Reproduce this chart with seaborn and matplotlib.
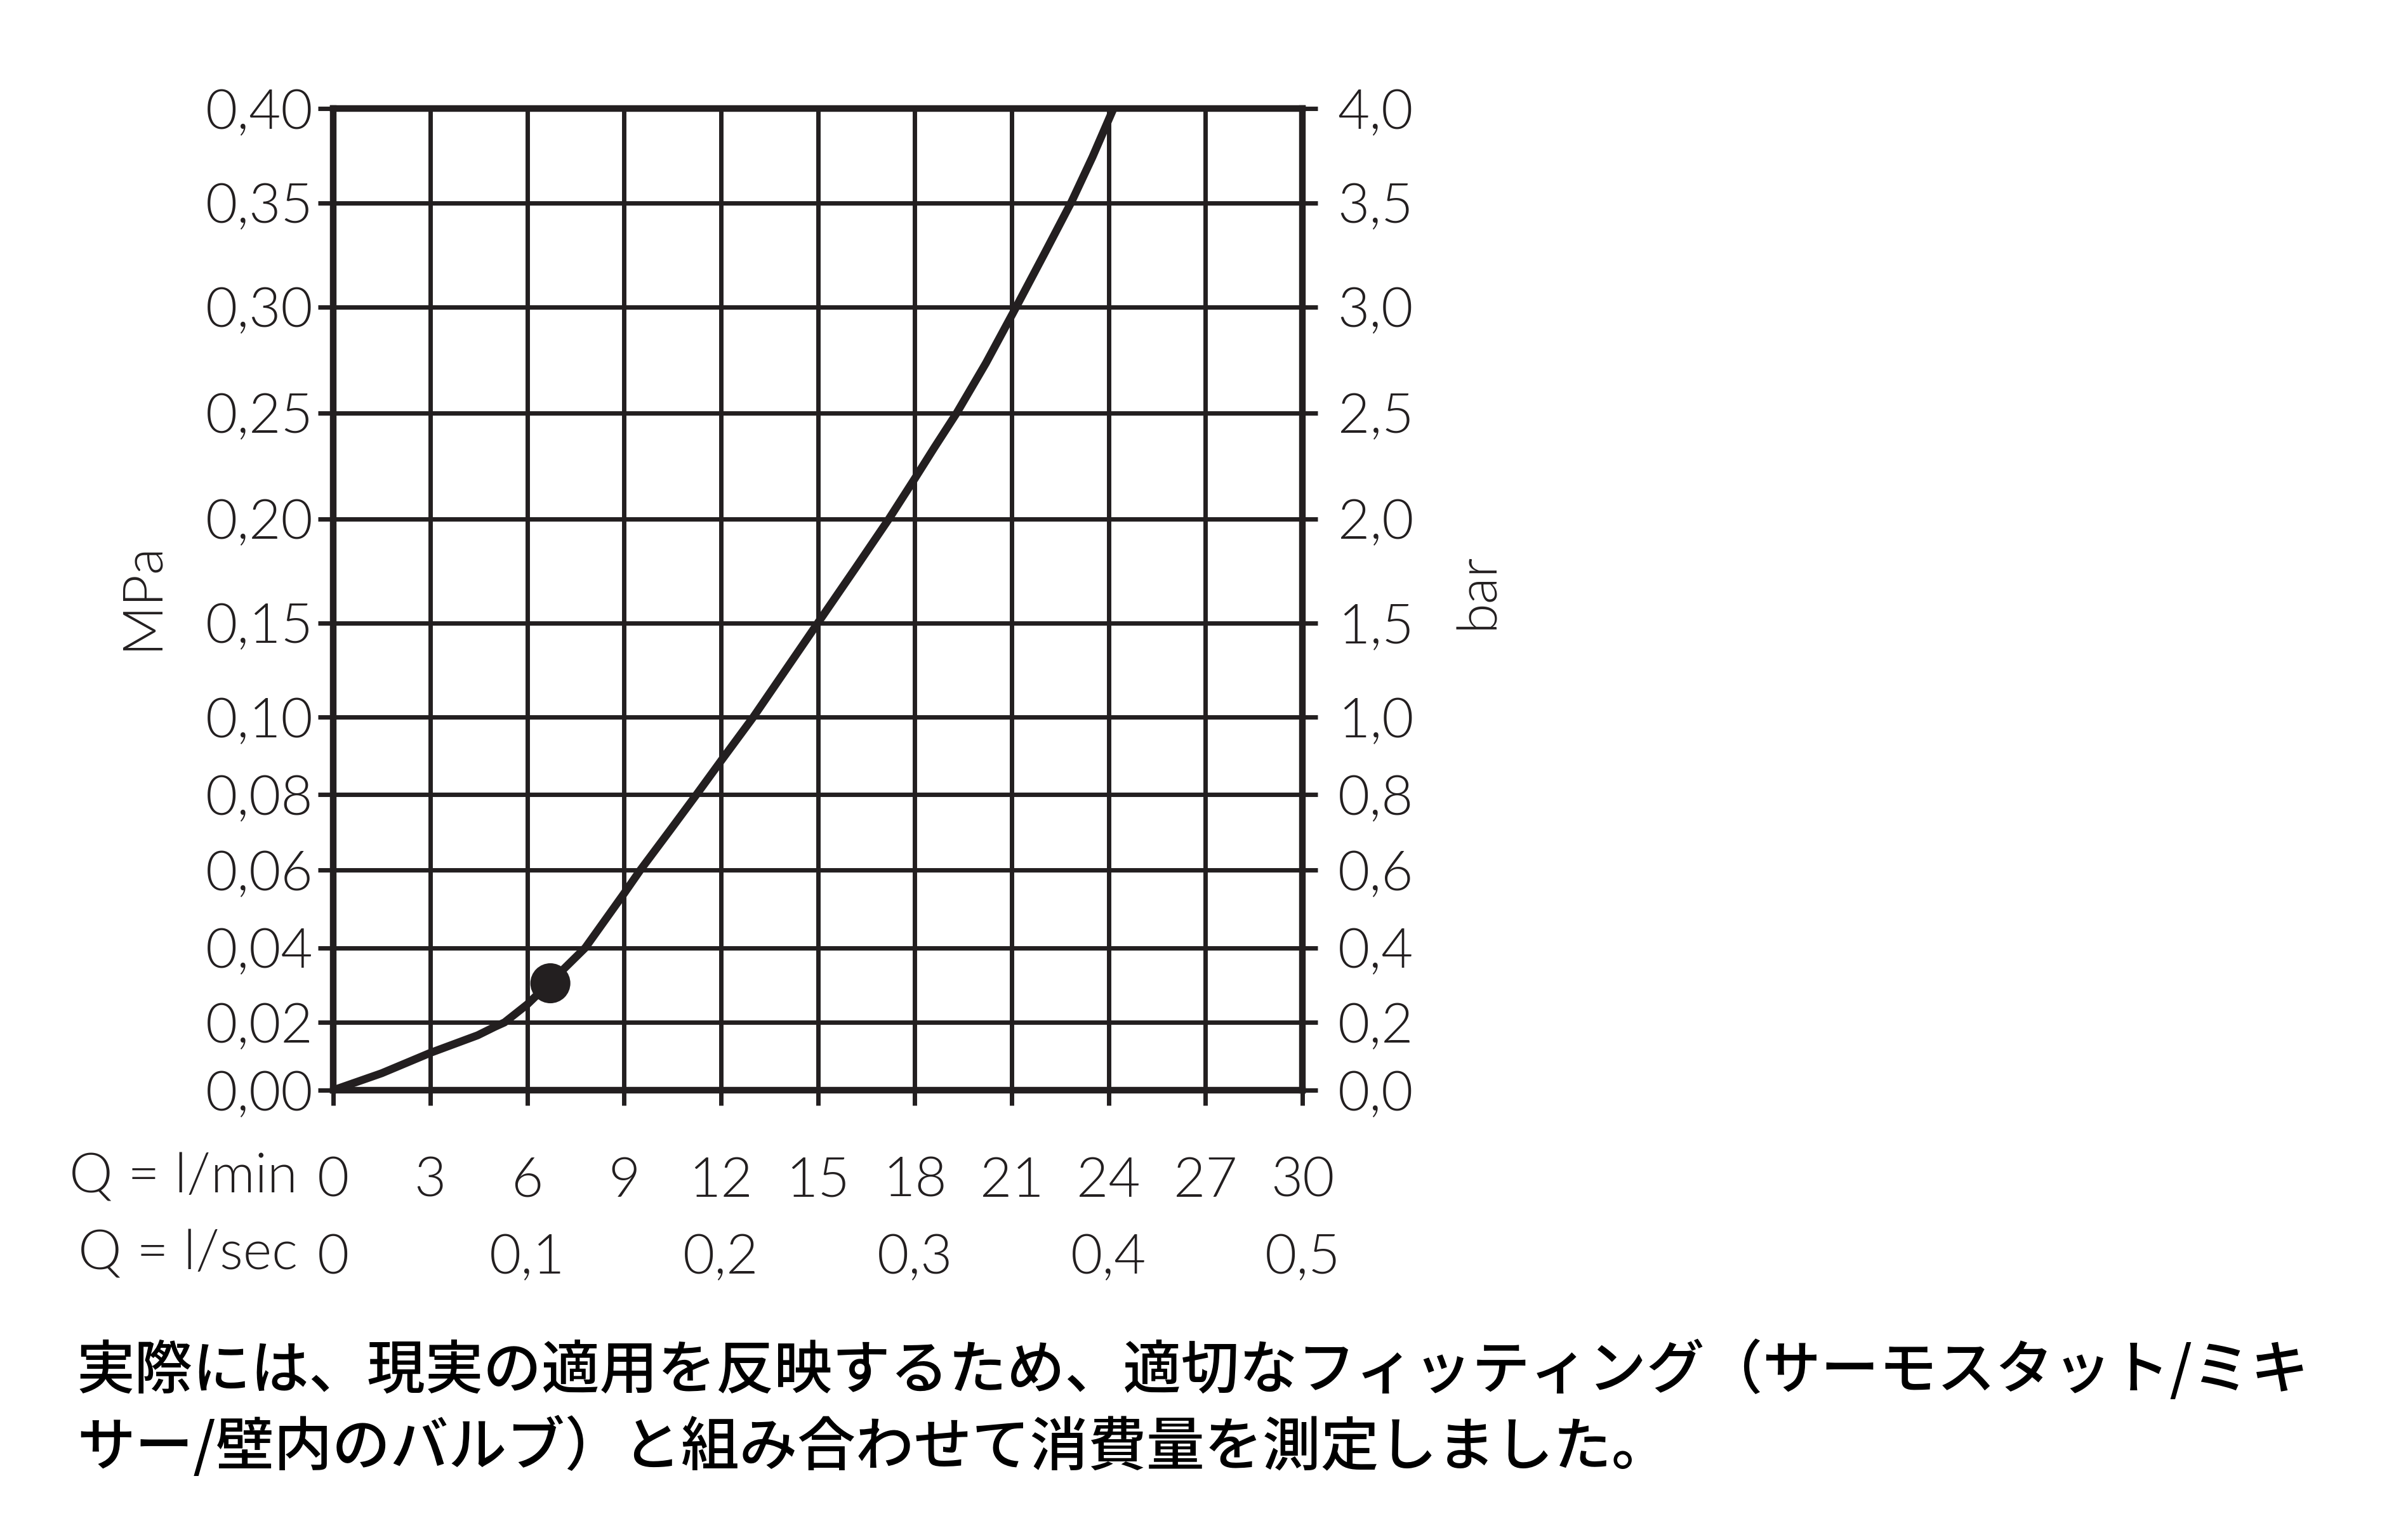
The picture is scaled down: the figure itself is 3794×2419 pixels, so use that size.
"""Pressure loss diagram: MPa / bar over flow rate in l/min and l/sec."""
import matplotlib
matplotlib.use("Agg")  # headless backend

import matplotlib.pyplot as plt
import numpy as np
import seaborn as sns

# ---------------------------------------------------------------------------
# Data
# ---------------------------------------------------------------------------
flow_lpm = [0, 1.5, 3.0, 4.47, 5.0, 5.3, 6.0, 6.72, 7.8, 9.0, 9.5, 10.4,
            11.24, 12.0, 13.0, 14.0, 15.0, 16.15, 17.2, 18.0, 18.6, 19.3,
            20.2, 21.1, 22.0, 22.85, 23.5, 24.15]
pressure_mpa = [0, 0.0050, 0.0110, 0.0162, 0.0187, 0.0200, 0.0248, 0.0308,
                0.040, 0.054, 0.060, 0.0703, 0.080, 0.0887, 0.100, 0.125,
                0.150, 0.176, 0.200, 0.219, 0.2335, 0.250, 0.2734, 0.2988,
                0.3252, 0.3505, 0.3743, 0.400]

point_lpm = [6.72]
point_mpa = [0.0305]

lpm_ticks = [0, 3, 6, 9, 12, 15, 18, 21, 24, 27, 30]
lpm_labels = ["0", "3", "6", "9", "12", "15", "18", "21", "24", "27", "30"]
lsec_ticks = [0, 0.1, 0.2, 0.3, 0.4, 0.5]
lsec_labels = ["0", "0,1", "0,2", "0,3", "0,4", "0,5"]

mpa_ticks = [0, 0.02, 0.04, 0.06, 0.08, 0.10, 0.15, 0.20, 0.25, 0.30, 0.35, 0.40]
mpa_labels = ["0,00", "0,02", "0,04", "0,06", "0,08", "0,10",
              "0,15", "0,20", "0,25", "0,30", "0,35", "0,40"]
bar_labels = ["0,0", "0,2", "0,4", "0,6", "0,8", "1,0",
              "1,5", "2,0", "2,5", "3,0", "3,5", "4,0"]

note_lines = [
    "実際には、現実の適用を反映するため、適切なフィッティング（サーモスタット/ミキ",
    "サー/壁内のバルブ）と組み合わせて消費量を測定しました。",
]

# ---------------------------------------------------------------------------
# Non-uniform pressure scale: where each grid line sits (fraction of height)
# ---------------------------------------------------------------------------
grid_frac = [0, 0.069, 0.145, 0.224, 0.301, 0.380,
             0.476, 0.582, 0.690, 0.798, 0.904, 1.0]


def mpa_forward(v):
    return np.interp(v, mpa_ticks, grid_frac)


def mpa_inverse(f):
    return np.interp(f, grid_frac, mpa_ticks)


bar_ticks = [10 * v for v in mpa_ticks]


def bar_forward(v):
    return np.interp(v, bar_ticks, grid_frac)


def bar_inverse(f):
    return np.interp(f, grid_frac, bar_ticks)


# ---------------------------------------------------------------------------
# Plot
# ---------------------------------------------------------------------------
INK = "#231f20"
LATIN = "Lato"
CJK = "Noto Sans CJK JP"

sns.set_theme(style="white")
plt.rcParams["font.family"] = [LATIN, "DejaVu Sans"]
plt.rcParams["font.weight"] = 300
plt.rcParams["text.color"] = INK
plt.rcParams["xtick.color"] = INK
plt.rcParams["ytick.color"] = INK

fig = plt.figure(figsize=(3794 / 250, 2419 / 250), dpi=250)
ax = fig.add_axes([0.1384, 0.2898, 0.4025, 0.6395])

ax.set_yscale("function", functions=(mpa_forward, mpa_inverse))
ax.set_xlim(0, 30)
ax.set_ylim(0, 0.40)

sns.lineplot(x=flow_lpm, y=pressure_mpa, ax=ax, color=INK, linewidth=3.6,
             sort=False, estimator=None, solid_capstyle="butt", zorder=3)
sns.scatterplot(x=point_lpm, y=point_mpa, ax=ax, color=INK, s=330,
                edgecolor="none", zorder=4)

ax.set_xticks(lpm_ticks, lpm_labels)
ax.set_yticks(mpa_ticks, mpa_labels)
ax.yaxis.set_minor_locator(matplotlib.ticker.NullLocator())
ax.grid(True, color=INK, linewidth=2.0)
ax.set_axisbelow(True)
for side in ["left", "right", "top", "bottom"]:
    ax.spines[side].set_visible(True)
    ax.spines[side].set_color(INK)
    ax.spines[side].set_linewidth(3.0)

ax.tick_params(axis="y", left=True, right=False, direction="out", length=7,
               width=2.0, pad=2, labelsize=25)
ax.tick_params(axis="x", bottom=True, direction="out", length=7,
               width=2.0, pad=23, labelsize=25)

# right-hand bar axis
ax2 = ax.twinx()
ax2.set_yscale("function", functions=(bar_forward, bar_inverse))
ax2.set_ylim(0, 4.0)
ax2.set_yticks(bar_ticks, bar_labels)
ax2.yaxis.set_minor_locator(matplotlib.ticker.NullLocator())
ax2.grid(False)
for side in ["left", "right", "top", "bottom"]:
    ax2.spines[side].set_visible(False)
ax2.tick_params(axis="y", right=True, direction="out", length=7,
                width=2.0, pad=9, labelsize=25)

# second flow-rate row in l/sec
sec = ax.secondary_xaxis("bottom", functions=(lambda q: q / 60, lambda s: s * 60))
sec.set_xticks(lsec_ticks, lsec_labels)
sec.tick_params(length=0, pad=65, labelsize=25)
sec.spines["bottom"].set_visible(False)

# axis titles and row captions
fig.text(0.0588, 0.6118, "MPa", rotation=90, ha="center", va="center", fontsize=25)
fig.text(0.6136, 0.6151, "bar", rotation=90, ha="center", va="center", fontsize=25)
fig.text(0.1236, 0.2330, "Q = l/min", ha="right", va="center", fontsize=25)
fig.text(0.1236, 0.1830, "Q = l/sec", ha="right", va="center", fontsize=25)

# footnote
for line, y in zip(note_lines, [0.1067, 0.0566]):
    fig.text(0.0319, y, line, ha="left", va="center", fontsize=26.4,
             family=[CJK, "DejaVu Sans"], weight="medium", color="black")

fig.savefig("out.png", dpi=250)
plt.close(fig)
